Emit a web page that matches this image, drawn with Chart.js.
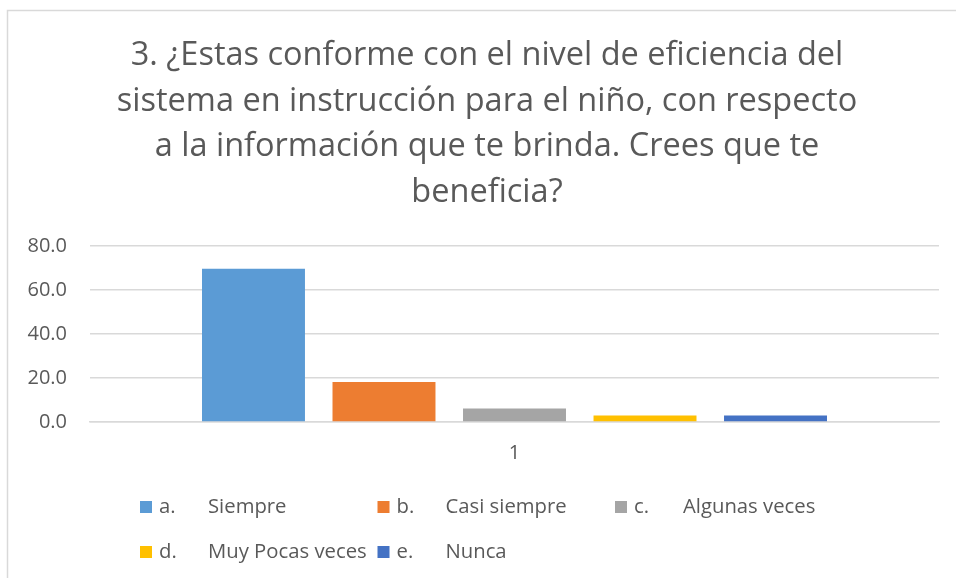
<!DOCTYPE html>
<html>
<head>
<meta charset="utf-8">
<script src="https://cdn.jsdelivr.net/npm/chart.js@4.4.1/dist/chart.umd.min.js"></script>
<style>
  html, body { margin: 0; padding: 0; background: #ffffff; }
  #wrap { width: 956px; height: 578px; position: relative; }
</style>
</head>
<body>
<div id="wrap"><canvas id="c" width="956" height="578"></canvas></div>
<script>
// ---- data ----
const categories = ["1"];
const seriesNames = ["a.\tSiempre", "b.\tCasi siempre", "c.\tAlgunas veces", "d.\tMuy Pocas veces", "e.\tNunca"];
const seriesValues = [69.7, 18.2, 6.1, 3.0, 3.0];
const seriesColors = ["#5B9BD5", "#ED7D31", "#A5A5A5", "#FFC000", "#4472C4"];
const yTicks = [0, 20, 40, 60, 80];
const titleLines = [
  "3. ¿Estas conforme con el nivel de eficiencia del",
  "sistema en instrucción para el niño, con respecto",
  "a la información que te brinda. Crees que te",
  "beneficia?"
];

const TEXT = "#595959";
const GRID = "#d9d9d9";
const FONT = "'Open Sans'";

const datasets = seriesNames.map((name, i) => ({
  label: name,
  data: [seriesValues[i]],
  backgroundColor: seriesColors[i],
  borderWidth: 0,
  categoryPercentage: 0.7686,
  barPercentage: 0.789
}));

const frame = {
  id: "frame",
  afterLayout(chart) {
    // centre the title over the framed chart box rather than the whole canvas
    if (chart.titleBlock) chart.titleBlock.left = 35;
  },
  beforeDraw(chart) {
    const ctx = chart.ctx;
    ctx.save();
    ctx.fillStyle = "#ffffff";
    ctx.fillRect(0, 0, chart.width, chart.height);
    ctx.strokeStyle = GRID;
    ctx.lineWidth = 1.5;
    ctx.beginPath();
    ctx.moveTo(7.5, chart.height);
    ctx.lineTo(7.5, 10.5);
    ctx.lineTo(chart.width, 10.5);
    ctx.stroke();
    ctx.restore();
  }
};

const gridLegend = {
  id: "gridLegend",
  afterDraw(chart) {
    const ctx = chart.ctx;
    ctx.save();
    ctx.font = "20.3px " + FONT;
    ctx.textBaseline = "middle";
    ctx.textAlign = "left";
    const x0 = 140, colW = 237.5, rows = [507, 552], cols = 3;
    chart.data.datasets.forEach((ds, i) => {
      const r = Math.floor(i / cols), c = i % cols;
      const x = x0 + c * colW, y = rows[r];
      ctx.fillStyle = ds.backgroundColor;
      ctx.fillRect(x, y - 6, 12, 12);
      const parts = ds.label.split("\t");
      ctx.fillStyle = TEXT;
      ctx.fillText(parts[0], x + 19, y);
      ctx.fillText(parts[1], x + 68, y);
    });
    ctx.restore();
  }
};

new Chart(document.getElementById("c"), {
  type: "bar",
  data: { labels: categories, datasets },
  options: {
    responsive: false,
    animation: false,
    events: [],
    layout: { padding: { left: 0, right: 17, top: 0, bottom: 0 } },
    plugins: {
      legend: { display: false },
      tooltip: { enabled: false },
      title: {
        display: true,
        text: titleLines,
        color: TEXT,
        font: { family: FONT, size: 32.5, weight: "normal", lineHeight: 45.5 / 32.5 },
        padding: { top: 33, bottom: 31 }
      }
    },
    scales: {
      x: {
        grid: { display: false, drawTicks: false },
        border: { display: true, color: GRID, width: 1.5 },
        ticks: { color: TEXT, font: { family: FONT, size: 20 }, padding: 19 },
        afterFit(scale) { scale.height = 156; }
      },
      y: {
        min: 0, max: 80,
        afterBuildTicks(scale) { scale.ticks = yTicks.map(v => ({ value: v })); },
        grid: { color: GRID, lineWidth: 1.5, drawTicks: false },
        border: { display: false },
        ticks: {
          color: TEXT, font: { family: FONT, size: 20 }, padding: 23,
          callback: v => Number(v).toFixed(1)
        },
        afterFit(scale) { scale.width = 90; }
      }
    }
  },
  plugins: [frame, gridLegend]
});
</script>
</body>
</html>
